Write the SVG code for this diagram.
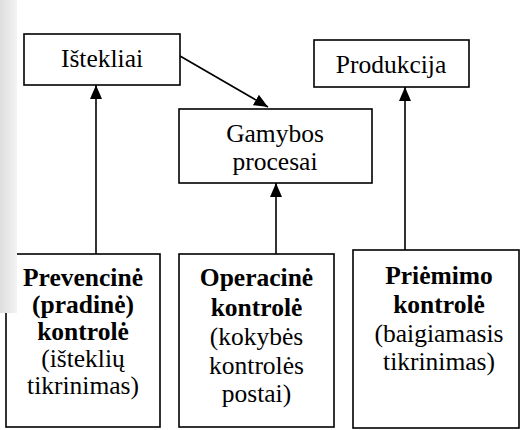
<svg xmlns="http://www.w3.org/2000/svg" width="520" height="430" viewBox="0 0 520 430">
  <defs>
    <marker id="arrow" markerUnits="userSpaceOnUse" markerWidth="14" markerHeight="14" viewBox="0 0 14 12" refX="14" refY="6" orient="auto">
      <path d="M0,0 L14,6 L0,12 Z" fill="#000"/>
    </marker>
    <linearGradient id="panel" x1="0" y1="0" x2="1" y2="0">
      <stop offset="0" stop-color="#dedede"/>
      <stop offset="1" stop-color="#f3f3f3"/>
    </linearGradient>
  </defs>
  <style>
    .box { fill: #fff; stroke: #000; stroke-width: 1.6; }
    .link { fill: none; stroke: #000; stroke-width: 1.6; marker-end: url(#arrow); }
    .t { font-family: 'Liberation Serif', 'Times New Roman', serif; font-size: 25.5px; fill: #000; text-anchor: middle; }
    .b { font-weight: bold; }
  </style>

  <rect width="520" height="430" fill="#fff"/>

  <g id="connectors">
    <line class="link" x1="96" y1="254" x2="96" y2="85"/>
    <line class="link" x1="276" y1="254" x2="276" y2="183"/>
    <line class="link" x1="405" y1="250" x2="405" y2="87"/>
    <line class="link" x1="180" y1="56" x2="268" y2="107"/>
  </g>

  <g id="istekliai">
    <rect class="box" x="24" y="34" width="156" height="51"/>
    <text class="t" x="102" y="67">Ištekliai</text>
  </g>

  <g id="gamybos-procesai">
    <rect class="box" x="179" y="109" width="193" height="74"/>
    <text class="t" x="275" y="142">Gamybos</text>
    <text class="t" x="275" y="170">procesai</text>
  </g>

  <g id="produkcija">
    <rect class="box" x="314" y="40" width="155" height="47"/>
    <text class="t" x="391" y="73">Produkcija</text>
  </g>

  <g id="prevencine-kontrole">
    <rect class="box" x="6" y="254" width="154" height="173"/>
    <text class="t b" x="83" y="286">Prevencinė</text>
    <text class="t b" x="83" y="313">(pradinė)</text>
    <text class="t b" x="83" y="340">kontrolė</text>
    <text class="t" x="83" y="367">(išteklių</text>
    <text class="t" x="83" y="394">tikrinimas)</text>
  </g>

  <g id="operacine-kontrole">
    <rect class="box" x="179" y="254" width="155" height="173"/>
    <text class="t b" x="256.5" y="286">Operacinė</text>
    <text class="t b" x="256.5" y="316">kontrolė</text>
    <text class="t" x="256.5" y="345">(kokybės</text>
    <text class="t" x="256.5" y="374">kontrolės</text>
    <text class="t" x="256.5" y="402">postai)</text>
  </g>

  <g id="priemimo-kontrole">
    <rect class="box" x="353" y="250" width="166" height="178"/>
    <text class="t b" x="439" y="284">Priėmimo</text>
    <text class="t b" x="439" y="313">kontrolė</text>
    <text class="t" x="439" y="342">(baigiamasis</text>
    <text class="t" x="439" y="370">tikrinimas)</text>
  </g>

  <!-- shaded side panel over the left margin -->
  <rect x="0" y="0" width="17" height="313" fill="url(#panel)"/>
</svg>
